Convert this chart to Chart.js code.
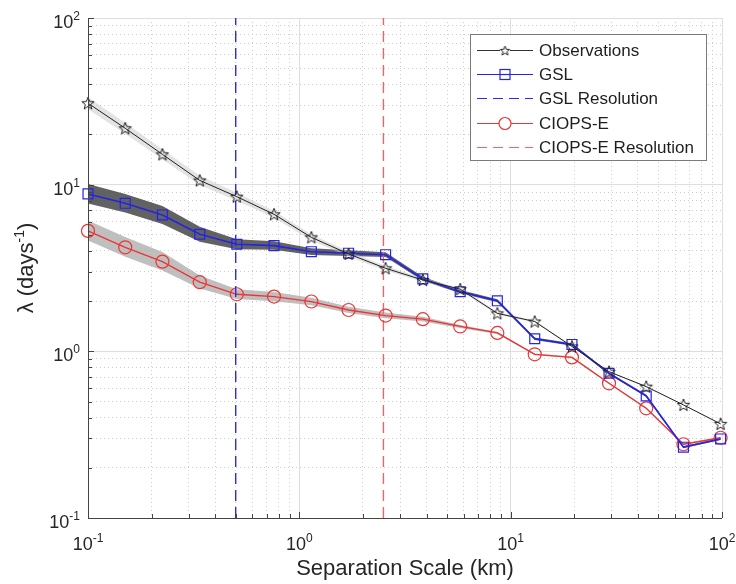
<!DOCTYPE html>
<html>
<head>
<meta charset="utf-8">
<script src="https://cdn.jsdelivr.net/npm/chart.js@4.4.1/dist/chart.umd.min.js"></script>
<style>
body { margin: 0; background: #fff; }
#wrap { width: 736px; height: 584px; }
</style>
</head>
<body>
<div id="wrap"><canvas id="graph1"></canvas></div>
<script>
// separation scale (km)
const xs = [0.1, 0.15, 0.225, 0.338, 0.506, 0.759, 1.14, 1.71, 2.56, 3.84, 5.77, 8.65, 13.0, 19.5, 29.2, 43.8, 65.7, 98.5];

// lambda (days^-1)
const obs   = [30.8, 21.8, 15.2, 10.6, 8.47, 6.64, 4.83, 3.84, 3.15, 2.68, 2.36, 1.69, 1.51, 1.07, 0.755, 0.614, 0.477, 0.367];
const obsHi = [33.5, 23.5, 16.3, 11.3, 8.95, 6.95, 5.03, 3.98, 3.25, 2.75, 2.41, 1.72, 1.53, 1.08, 0.76, 0.62, 0.48, 0.37];
const obsLo = [28.3, 20.2, 14.2, 9.95, 8.0, 6.33, 4.63, 3.7, 3.05, 2.61, 2.31, 1.66, 1.49, 1.06, 0.75, 0.608, 0.474, 0.364];

const gsl   = [8.8, 7.73, 6.58, 5.04, 4.39, 4.31, 3.96, 3.88, 3.80, 2.72, 2.28, 2.01, 1.19, 1.10, 0.738, 0.54, 0.266, 0.298];
const gslHi = [10.1, 8.8, 7.45, 5.6, 4.7, 4.57, 4.15, 4.04, 3.93, 2.8, 2.33, 2.05, 1.21, 1.12, 0.75, 0.548, 0.27, 0.302];
const gslLo = [7.7, 6.8, 5.8, 4.55, 4.1, 4.07, 3.78, 3.73, 3.68, 2.65, 2.23, 1.97, 1.17, 1.08, 0.727, 0.532, 0.262, 0.294];

const ciops   = [5.28, 4.21, 3.45, 2.6, 2.2, 2.13, 1.99, 1.77, 1.64, 1.56, 1.41, 1.29, 0.96, 0.92, 0.643, 0.455, 0.277, 0.303];
const ciopsHi = [6.1, 4.85, 3.95, 2.85, 2.36, 2.27, 2.1, 1.85, 1.71, 1.61, 1.44, 1.31, 0.97, 0.93, 0.65, 0.46, 0.28, 0.306];
const ciopsLo = [4.62, 3.7, 3.05, 2.38, 2.06, 2.0, 1.89, 1.7, 1.58, 1.51, 1.38, 1.27, 0.95, 0.91, 0.636, 0.45, 0.274, 0.3];

// model resolutions (km)
const gslRes = 0.5;
const ciopsRes = 2.5;

// axes
const decades = [0.1, 1, 10, 100];
const tickExp = ['-1', '0', '1', '2'];
const legendLabels = ['Observations', 'GSL', 'GSL Resolution', 'CIOPS-E', 'CIOPS-E Resolution'];

const BLUE = '#2424e6';
const RED = '#ec3434';
const BLUE_DASH = '#2a2aee';
const RED_DASH = '#f46262';
const FONT = '"Liberation Sans", Arial, sans-serif';

// minor + major grid positions
const gridTicks = [];
for (let d = 0; d < decades.length; d++) {
    gridTicks.push(decades[d]);
    if (d < decades.length - 1) {
        for (let m = 2; m <= 9; m++) gridTicks.push(+(decades[d] * m).toPrecision(3));
    }
}
function isMajor(v) {
    const l = Math.log10(v);
    return Math.abs(l - Math.round(l)) < 1e-6;
}

function pts(ys) {
    return xs.map((x, i) => ({ x: x, y: ys[i] }));
}

// outlined pentagram marker like matlab's 'p'
function makeStar(r, color) {
    const c = document.createElement('canvas');
    const s = Math.ceil(r * 2 + 3);
    c.width = s; c.height = s;
    const ctx = c.getContext('2d');
    ctx.strokeStyle = color;
    ctx.lineWidth = 1;
    ctx.beginPath();
    for (let i = 0; i < 10; i++) {
        const rad = i % 2 === 0 ? r : r * 0.42;
        const a = -Math.PI / 2 + i * Math.PI / 5;
        const px = s / 2 + rad * Math.cos(a), py = s / 2 + 0.5 + rad * Math.sin(a);
        if (i === 0) ctx.moveTo(px, py); else ctx.lineTo(px, py);
    }
    ctx.closePath();
    ctx.stroke();
    return c;
}
const star = makeStar(6.5, '#222');
const starSmall = makeStar(5, '#222');

const gridOpts = {
    drawTicks: false,
    color: ctx => (ctx.tick && isMajor(ctx.tick.value)) ? '#dedede' : '#cdcdcd',
    lineWidth: 1
};
const borderOpts = {
    display: false,
    dash: ctx => (ctx.tick && isMajor(ctx.tick.value)) ? [] : [1, 3]
};

// axes lines, inward ticks, labels and titles
const axisPlugin = {
    id: 'axisPlugin',
    afterDraw(chart) {
        const ctx = chart.ctx;
        const xA = chart.scales.x, yA = chart.scales.y;
        const a = chart.chartArea;
        ctx.save();
        ctx.strokeStyle = '#444';
        ctx.lineWidth = 1;
        ctx.beginPath();
        ctx.moveTo(a.left + 0.5, a.top);
        ctx.lineTo(a.left + 0.5, a.bottom + 0.5);
        ctx.lineTo(a.right, a.bottom + 0.5);
        gridTicks.forEach(v => {
            const len = isMajor(v) ? 6 : 4;
            const px = Math.round(xA.getPixelForValue(v)) + 0.5;
            ctx.moveTo(px, a.bottom);
            ctx.lineTo(px, a.bottom - len);
            const py = Math.round(yA.getPixelForValue(v)) + 0.5;
            ctx.moveTo(a.left, py);
            ctx.lineTo(a.left + len, py);
        });
        ctx.stroke();

        ctx.fillStyle = '#262626';
        ctx.textBaseline = 'alphabetic';
        ctx.textAlign = 'left';
        decades.forEach((v, i) => {
            ctx.font = '18px ' + FONT;
            const w1 = ctx.measureText('10').width;
            ctx.font = '12px ' + FONT;
            const w2 = ctx.measureText(tickExp[i]).width;
            // x labels
            const px = xA.getPixelForValue(v);
            const sx = px - (w1 + w2) / 2;
            ctx.font = '18px ' + FONT;
            ctx.fillText('10', sx, a.bottom + 32);
            ctx.font = '12px ' + FONT;
            ctx.fillText(tickExp[i], sx + w1, a.bottom + 24);
            // y labels
            const py = yA.getPixelForValue(v);
            const right = a.left - 8;
            ctx.font = '18px ' + FONT;
            ctx.fillText('10', right - w2 - w1, py + 10);
            ctx.font = '12px ' + FONT;
            ctx.fillText(tickExp[i], right - w2, py + 2);
        });

        // x title
        ctx.font = '22px ' + FONT;
        ctx.textAlign = 'center';
        ctx.fillText('Separation Scale (km)', (a.left + a.right) / 2, 575);

        // y title, rotated
        ctx.translate(33, (a.top + a.bottom) / 2);
        ctx.rotate(-Math.PI / 2);
        ctx.textAlign = 'left';
        ctx.font = '22px ' + FONT;
        const t1 = 'λ (days';
        const w1 = ctx.measureText(t1).width;
        ctx.font = '14px ' + FONT;
        const w2 = ctx.measureText('-1').width;
        ctx.font = '22px ' + FONT;
        const w3 = ctx.measureText(')').width;
        const sx = -(w1 + w2 + w3) / 2;
        ctx.fillText(t1, sx, 0);
        ctx.font = '14px ' + FONT;
        ctx.fillText('-1', sx + w1, -9);
        ctx.font = '22px ' + FONT;
        ctx.fillText(')', sx + w1 + w2, 0);
        ctx.restore();
    }
};

// matlab style legend box
const legendPlugin = {
    id: 'legendPlugin',
    afterDraw(chart) {
        const ctx = chart.ctx;
        const bx = 470.5, by = 34.5, bw = 236, bh = 126;
        ctx.save();
        ctx.fillStyle = '#fff';
        ctx.fillRect(bx, by, bw, bh);
        ctx.strokeStyle = '#7a7a7a';
        ctx.lineWidth = 1;
        ctx.strokeRect(bx, by, bw, bh);
        const rows = [50, 74, 98, 123, 147];
        const styles = [
            { color: '#333', dash: [], marker: 'star' },
            { color: BLUE, dash: [], marker: 'rect' },
            { color: BLUE_DASH, dash: [10, 6], marker: null },
            { color: RED, dash: [], marker: 'circle' },
            { color: RED_DASH, dash: [10, 6], marker: null }
        ];
        const x0 = 477, x1 = 533, xm = 505;
        rows.forEach((y, i) => {
            const st = styles[i];
            ctx.strokeStyle = st.color;
            ctx.lineWidth = 1.2;
            ctx.setLineDash(st.dash);
            ctx.beginPath();
            ctx.moveTo(x0, y + 0.5);
            ctx.lineTo(x1, y + 0.5);
            ctx.stroke();
            ctx.setLineDash([]);
            if (st.marker === 'rect') {
                ctx.fillStyle = '#fff';
                ctx.fillRect(xm - 5, y - 4.5, 10, 10);
                ctx.strokeRect(xm - 5, y - 4.5, 10, 10);
                ctx.beginPath();
                ctx.moveTo(xm - 5, y + 0.5);
                ctx.lineTo(xm + 5, y + 0.5);
                ctx.stroke();
            } else if (st.marker === 'circle') {
                ctx.fillStyle = '#fff';
                ctx.beginPath();
                ctx.arc(xm, y + 0.5, 6, 0, Math.PI * 2);
                ctx.fill();
                ctx.stroke();
            } else if (st.marker === 'star') {
                ctx.fillStyle = '#fff';
                ctx.fillRect(xm - 5, y - 5, 10, 10);
                ctx.drawImage(starSmall, xm - starSmall.width / 2, y + 0.5 - starSmall.height / 2);
            }
            ctx.fillStyle = '#1e1e1e';
            ctx.font = '17px ' + FONT;
            ctx.textBaseline = 'middle';
            ctx.textAlign = 'left';
            ctx.fillText(legendLabels[i], 539, y + 1);
        });
        ctx.restore();
    }
};

const g1 = new Chart('graph1', {
    type: 'line',
    data: {
        datasets: [
            {
                label: 'Observations',
                data: pts(obs),
                borderColor: '#222',
                borderWidth: 1,
                pointStyle: star,
                pointRadius: 6,
                tension: 0,
                fill: false,
                clip: false
            },
            {
                label: 'GSL',
                data: pts(gsl),
                borderColor: BLUE,
                borderWidth: 1.6,
                pointStyle: 'rect',
                pointRadius: 7,
                pointBorderColor: BLUE,
                pointBackgroundColor: 'rgba(0,0,0,0)',
                pointBorderWidth: 1.2,
                tension: 0,
                fill: false,
                clip: false
            },
            {
                label: 'GSL Resolution',
                data: [{ x: gslRes, y: decades[0] }, { x: gslRes, y: decades[3] }],
                borderColor: BLUE_DASH,
                borderWidth: 1.4,
                borderDash: [11, 6],
                pointRadius: 0,
                fill: false
            },
            {
                label: 'CIOPS-E',
                data: pts(ciops),
                borderColor: RED,
                borderWidth: 1.3,
                pointStyle: 'circle',
                pointRadius: 6.5,
                pointBorderColor: RED,
                pointBackgroundColor: 'rgba(0,0,0,0)',
                pointBorderWidth: 1.2,
                tension: 0,
                fill: false,
                clip: false
            },
            {
                label: 'CIOPS-E Resolution',
                data: [{ x: ciopsRes, y: decades[0] }, { x: ciopsRes, y: decades[3] }],
                borderColor: RED_DASH,
                borderWidth: 1.4,
                borderDash: [11, 6],
                pointRadius: 0,
                fill: false
            },
            // shaded uncertainty bands
            { label: 'obsHi', data: pts(obsHi), borderWidth: 0, pointRadius: 0, tension: 0, fill: false },
            { label: 'obsLo', data: pts(obsLo), borderWidth: 0, pointRadius: 0, tension: 0, fill: '-1', backgroundColor: 'rgba(200,200,200,0.5)' },
            { label: 'gslHi', data: pts(gslHi), borderWidth: 0, pointRadius: 0, tension: 0, fill: false },
            { label: 'gslLo', data: pts(gslLo), borderWidth: 0, pointRadius: 0, tension: 0, fill: '-1', backgroundColor: 'rgba(70,70,70,0.85)' },
            { label: 'ciopsHi', data: pts(ciopsHi), borderWidth: 0, pointRadius: 0, tension: 0, fill: false },
            { label: 'ciopsLo', data: pts(ciopsLo), borderWidth: 0, pointRadius: 0, tension: 0, fill: '-1', backgroundColor: 'rgba(175,175,175,0.8)' }
        ]
    },
    options: {
        responsive: true,
        maintainAspectRatio: false,
        animation: false,
        layout: { padding: { top: 18, right: 14, left: 0, bottom: 0 } },
        plugins: {
            legend: { display: false },
            tooltip: { enabled: false }
        },
        scales: {
            x: {
                type: 'logarithmic',
                min: decades[0],
                max: decades[3],
                afterBuildTicks: s => { s.ticks = gridTicks.map(v => ({ value: v })); },
                afterFit: s => { s.height = 66; },
                ticks: { display: false },
                grid: gridOpts,
                border: borderOpts
            },
            y: {
                type: 'logarithmic',
                min: decades[0],
                max: decades[3],
                afterBuildTicks: s => { s.ticks = gridTicks.map(v => ({ value: v })); },
                afterFit: s => { s.width = 88; },
                ticks: { display: false },
                grid: gridOpts,
                border: borderOpts
            }
        }
    },
    plugins: [axisPlugin, legendPlugin]
});
</script>
</body>
</html>
